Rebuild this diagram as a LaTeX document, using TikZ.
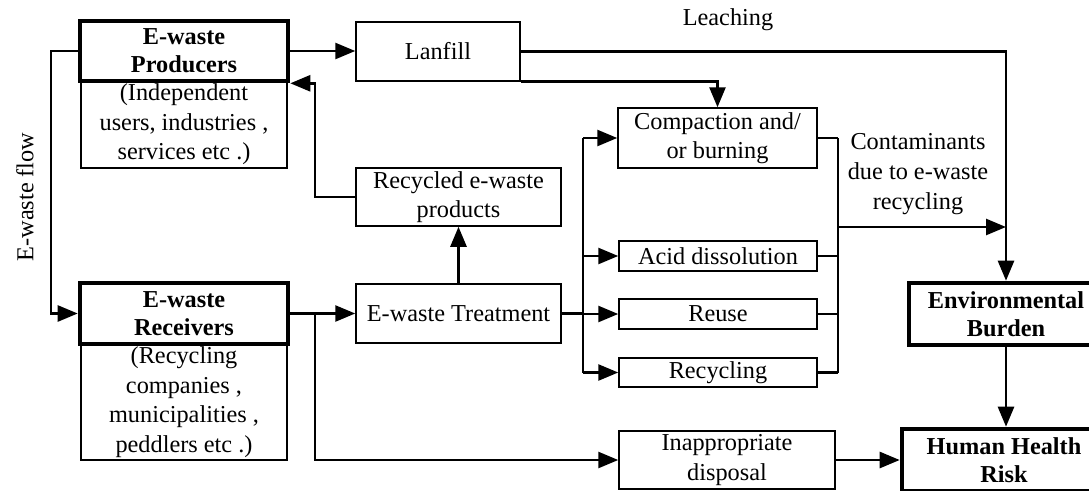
\documentclass[tikz,border=0pt]{standalone}
\usepackage{fontspec}
\setmainfont{Liberation Serif}
\usetikzlibrary{arrows.meta}
\begin{document}
\begin{tikzpicture}[x=1pt,y=-1pt,
  txt/.style={font=\fontsize{24.3}{29.5}\selectfont, align=center, inner sep=0pt},
  thinbox/.style={txt, draw, line width=1.5pt, minimum width=#1},
  thickbox/.style={txt, draw, line width=4.6pt, minimum width=#1, font=\fontsize{24.3}{28}\selectfont\bfseries},
  wire/.style={line width=2.6pt},
  conn/.style={wire, -{Triangle[length=20pt,width=16pt]}}]
\useasboundingbox (0,0) rectangle (1089,490);
\begin{scope}
\clip (0,0) rectangle (1089,490);
% boxes
\node[thinbox=206pt, minimum height=87pt] (prodsub) at (184,124.5) {(Independent\\users, industries ,\\services etc .)};
\node[thickbox=208pt, minimum height=60pt] (prod) at (184,51) {E-waste\\Producers};
\node[thinbox=206pt, minimum height=116pt] (recsub) at (184,402) {(Recycling\\companies ,\\municipalities ,\\peddlers etc .)};
\node[thickbox=208pt, minimum height=61pt] (rec) at (184,313.5) {E-waste\\Receivers};
\node[thinbox=164pt, minimum height=59pt] (lanfill) at (438,51.5) {Lanfill};
\node[thinbox=205pt, minimum height=58pt] (recyc) at (458.5,197) {Recycled e-waste\\products};
\node[thinbox=205pt, minimum height=59pt] (treat) at (458.5,313.5) {E-waste Treatment};
\node[thinbox=199pt, minimum height=60pt] (comp) at (717.5,138) {Compaction and/\\or burning};
\node[thinbox=198pt, minimum height=30pt] (acid) at (718,256) {Acid dissolution};
\node[thinbox=198pt, minimum height=30pt] (reuse) at (718,314) {Reuse};
\node[thinbox=198pt, minimum height=29pt] (rcy) at (718,372.5) {Recycling};
\node[thinbox=216pt, minimum height=58pt] (inapp) at (727,460) {Inappropriate\\disposal};
\node[thickbox=194pt, minimum height=62pt] (env) at (1006,314) {Environmental\\Burden};
\node[thickbox=204pt, minimum height=62pt] (hum) at (1004,460) {Human Health\\Risk};
% labels
\node[txt] (leach) at (728,20) {Leaching};
\node[txt, font=\fontsize{24.3}{30}\selectfont] (contam) at (918,174) {Contaminants\\due to e-waste\\recycling};
\node[txt, rotate=90] (flow) at (25,197) {E-waste flow};
% helper coordinates
\coordinate (flowx) at (51,0);
\coordinate (bx) at (315,0);
\coordinate (lb) at (583,0);
\coordinate (rb) at (838,0);
\coordinate (cy) at (0,227);
% connectors
\draw[conn] (prod.east) -- (prod.east -| lanfill.west);
\draw[conn] (prod.west) -- (prod.west -| flowx) |- (rec.west);
\draw[conn] (recyc.west) -- (recyc.west -| bx) -- (bx |- prod.south east) -- (prod.south east);
\draw[conn] (rec.east) -- (treat.west);
\draw[conn] (rec.east -| bx) |- (inapp.west);
\draw[conn] (treat.north) -- (recyc.south);
\draw[wire] (treat.east) -- (treat.east -| lb);
\draw[wire] (lb |- comp.west) -- (lb |- rcy.west);
\draw[conn] (lb |- comp.west) -- (comp.west);
\draw[conn] (lb |- acid.west) -- (acid.west);
\draw[conn] (lb |- reuse.west) -- (reuse.west);
\draw[conn] (lb |- rcy.west) -- (rcy.west);
\draw[wire] (comp.east) -- (comp.east -| rb);
\draw[wire] (acid.east) -- (acid.east -| rb);
\draw[wire] (reuse.east) -- (reuse.east -| rb);
\draw[wire] (rcy.east) -- (rcy.east -| rb);
\draw[wire] (rb |- comp.east) -- (rb |- rcy.east);
\draw[conn] (rb |- cy) -- (env.north |- cy);
\draw[conn] (lanfill.east) -| (env.north);
\draw[conn] (lanfill.south east) -| (comp.north);
\draw[conn] (env.south) -- (env.south |- hum.north);
\draw[conn] (inapp.east) -- (hum.west);
\end{scope}
\end{tikzpicture}
\end{document}
